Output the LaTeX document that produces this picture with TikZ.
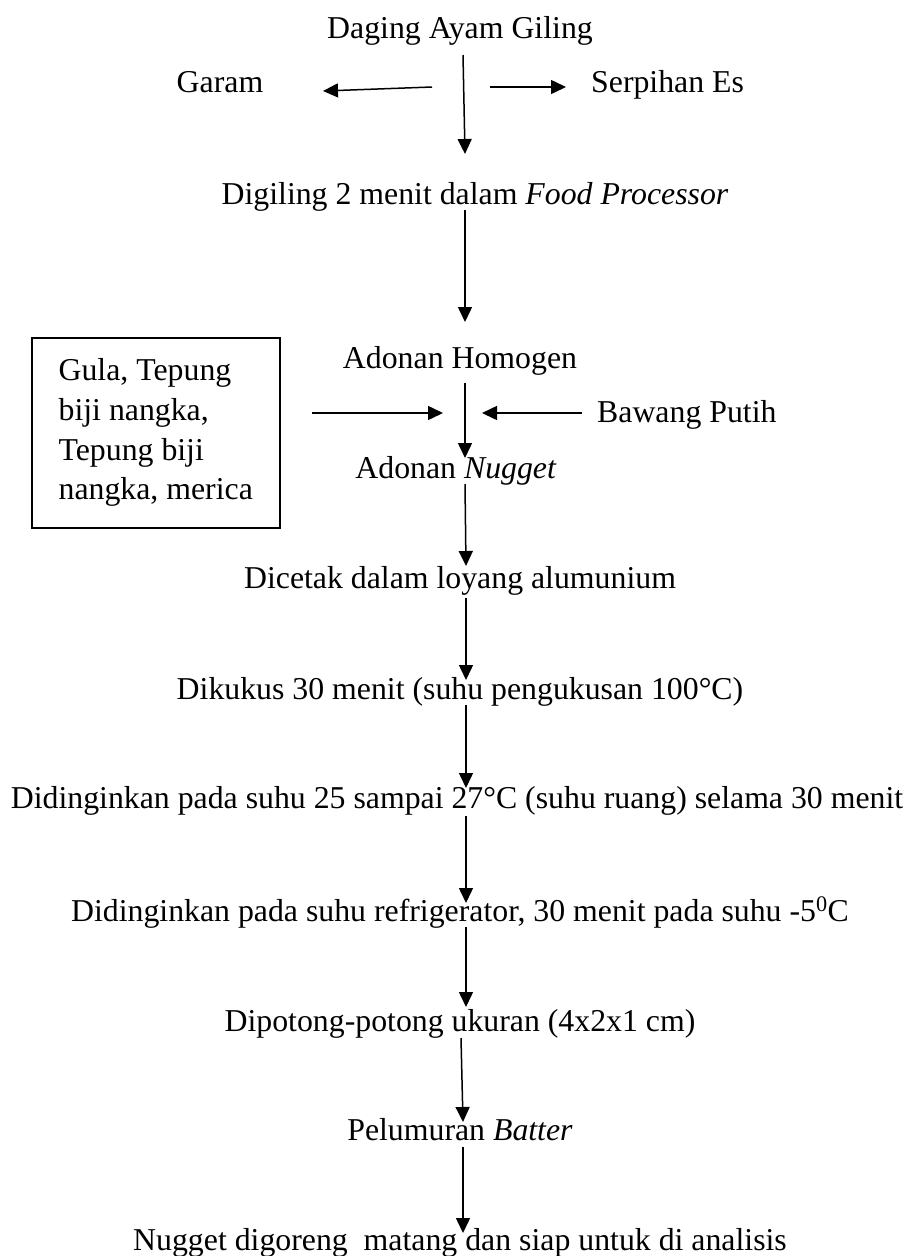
\documentclass[tikz,border=0pt]{standalone}
\usepackage{fontspec}
\setmainfont{Liberation Serif}
\usetikzlibrary{arrows.meta}
\begin{document}
\begin{tikzpicture}[x=1pt,y=-1pt,
  txt/.style={inner sep=0pt, anchor=base, font=\fontsize{31.8}{39.7}\selectfont},
  flow/.style={line width=1.5pt, -{Triangle[length=15pt,width=14pt]}},
  boxed/.style={draw, line width=1.5pt, inner xsep=21pt, inner ysep=0pt,
    anchor=north west, minimum width=248pt, minimum height=190pt,
    align=left, font=\fontsize{31.8}{39.7}\selectfont}]
\useasboundingbox (0,0) rectangle (914,1256);
% texts
\node[txt] (daging) at (460,38) {Daging Ayam Giling};
\node[txt] (garam) at (220,92) {Garam};
\node[txt, anchor=base west] (es) at (591,92) {Serpihan Es};
\node[txt] (giling) at (475,204) {Digiling 2 menit dalam \textit{Food Processor}};
\node[txt] (homogen) at (460,368) {Adonan Homogen};
\node[txt, anchor=base west] (bawang) at (597,422) {Bawang Putih};
\node[txt] (nugget) at (456,478) {Adonan \textit{Nugget}};
\node[boxed] (box) at (31,337) {Gula, Tepung\\biji nangka,\\Tepung biji\\nangka, merica};
\node[txt] (cetak) at (460,588) {Dicetak dalam loyang alumunium};
\node[txt] (kukus) at (460,699) {Dikukus 30 menit (suhu pengukusan 100°C)};
\node[txt] (dingin1) at (457,808) {Didinginkan pada suhu 25 sampai 27°C (suhu ruang) selama 30 menit};
\node[txt] (dingin2) at (460,921) {Didinginkan pada suhu refrigerator, 30 menit pada suhu -5\textsuperscript{0}C};
\node[txt] (potong) at (460,1031) {Dipotong-potong ukuran (4x2x1 cm)};
\node[txt] (batter) at (460,1140) {Pelumuran \textit{Batter}};
\node[txt] (goreng) at (460,1250) {Nugget digoreng\ \ matang dan siap untuk di analisis};
% connector end points
\coordinate (v1s) at (463,55);   \coordinate (v1e) at (465,154);
\coordinate (gs) at (432,87);    \coordinate (ge) at (323,91);
\coordinate (es1) at (490,87);   \coordinate (ee) at (566,87);
\coordinate (v2s) at (465,210);  \coordinate (v2e) at (465,322);
\coordinate (v3s) at (465,383);  \coordinate (v3e) at (465,458);
\coordinate (bxs) at (312,413);  \coordinate (bxe) at (443,413);
\coordinate (bws) at (582,413);  \coordinate (bwe) at (482,413);
\coordinate (v4s) at (465,484);  \coordinate (v4e) at (466,566);
\coordinate (v5s) at (466,598);  \coordinate (v5e) at (466,680);
\coordinate (v6s) at (466,705);  \coordinate (v6e) at (466,788);
\coordinate (v7s) at (466,816);  \coordinate (v7e) at (466,903);
\coordinate (v8s) at (466,927);  \coordinate (v8e) at (466,1007);
\coordinate (v9s) at (461,1038); \coordinate (v9e) at (463,1122);
\coordinate (v10s) at (463,1147);\coordinate (v10e) at (463,1233);
% connectors
\draw[flow] (v1s) -- (v1e);
\draw[flow] (gs) -- (ge);
\draw[flow] (es1) -- (ee);
\draw[flow] (v2s) -- (v2e);
\draw[flow] (v3s) -- (v3e);
\draw[flow] (bxs) -- (bxe);
\draw[flow] (bws) -- (bwe);
\draw[flow] (v4s) -- (v4e);
\draw[flow] (v5s) -- (v5e);
\draw[flow] (v6s) -- (v6e);
\draw[flow] (v7s) -- (v7e);
\draw[flow] (v8s) -- (v8e);
\draw[flow] (v9s) -- (v9e);
\draw[flow] (v10s) -- (v10e);
\end{tikzpicture}
\end{document}
